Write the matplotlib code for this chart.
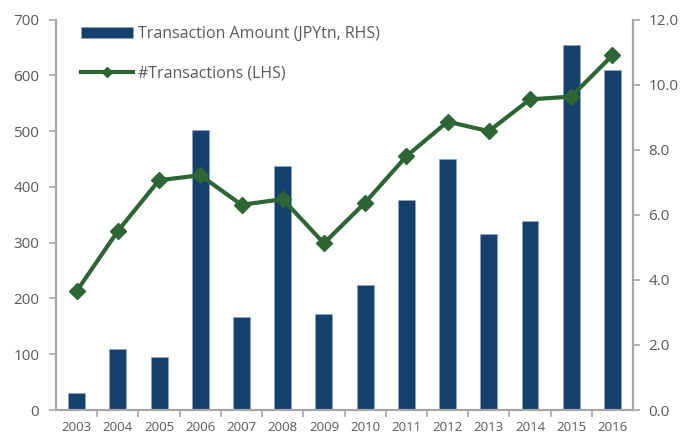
import numpy as np
import matplotlib
matplotlib.use("Agg")
import matplotlib.pyplot as plt

plt.rcParams['font.family'] = ['Open Sans', 'DejaVu Sans']

years = ['2003', '2004', '2005', '2006', '2007', '2008', '2009',
         '2010', '2011', '2012', '2013', '2014', '2015', '2016']
amount = [0.51, 1.87, 1.63, 8.60, 2.85, 7.51, 2.95,
          3.84, 6.47, 7.73, 5.42, 5.80, 11.23, 10.45]
n_trans = [213, 321, 412, 421, 368, 378, 299,
           372, 455, 517, 500, 557, 562, 636]

bar_col = '#15406C'
line_col = '#2E6534'
grey = '#A6A6A6'
txt = '#595959'

fig = plt.figure(figsize=(6.85, 4.36), dpi=100)
ax = fig.add_axes([0.0818, 0.0596, 0.8424, 0.8954])
ax2 = ax.twinx()

x = np.arange(len(years))
bars = ax2.bar(x, amount, width=0.41, color=bar_col, edgecolor='#8FA6C0',
               linewidth=0.5, label='Transaction Amount (JPYtn, RHS)')
line, = ax.plot(x, n_trans, color=line_col, lw=3.0, marker='D', ms=8,
                label='#Transactions (LHS)')

ax.set_zorder(ax2.get_zorder() + 1)
ax.patch.set_visible(False)

ax.set_xlim(-0.5, 13.5)
ax.set_ylim(0, 700)
ax2.set_ylim(0, 12)
ax.set_yticks(range(0, 701, 100))
ax2.set_yticks(np.arange(0, 12.1, 2))
ax2.set_yticklabels(['%.1f' % v for v in np.arange(0, 12.1, 2)])

ax.set_xticks(x)
ax.set_xticklabels(years)
ax.set_xticks(np.arange(0.5, 13.5, 1), minor=True)
ax.tick_params(axis='x', which='major', length=0, pad=8)
ax.tick_params(axis='x', which='minor', length=5, width=1.2, color=grey)

for a in (ax, ax2):
    for s in a.spines.values():
        s.set_color(grey)
        s.set_linewidth(1.5)
    a.spines['top'].set_visible(False)
    a.tick_params(axis='y', length=5, width=1.2, color=grey, labelcolor=txt,
                  labelsize=11)
ax.tick_params(axis='y', pad=7)
ax2.tick_params(axis='y', pad=6)
ax.tick_params(axis='x', labelcolor=txt, labelsize=9.5)

ax.legend([bars, line], [bars.get_label(), line.get_label()],
          loc='upper left', bbox_to_anchor=(0.032, 1.0), frameon=False,
          handlelength=3.25, labelspacing=1.45, handletextpad=0.3,
          borderaxespad=0, fontsize=11.5, labelcolor=txt, markerscale=0.6)

fig.savefig('out.png', dpi=100)
